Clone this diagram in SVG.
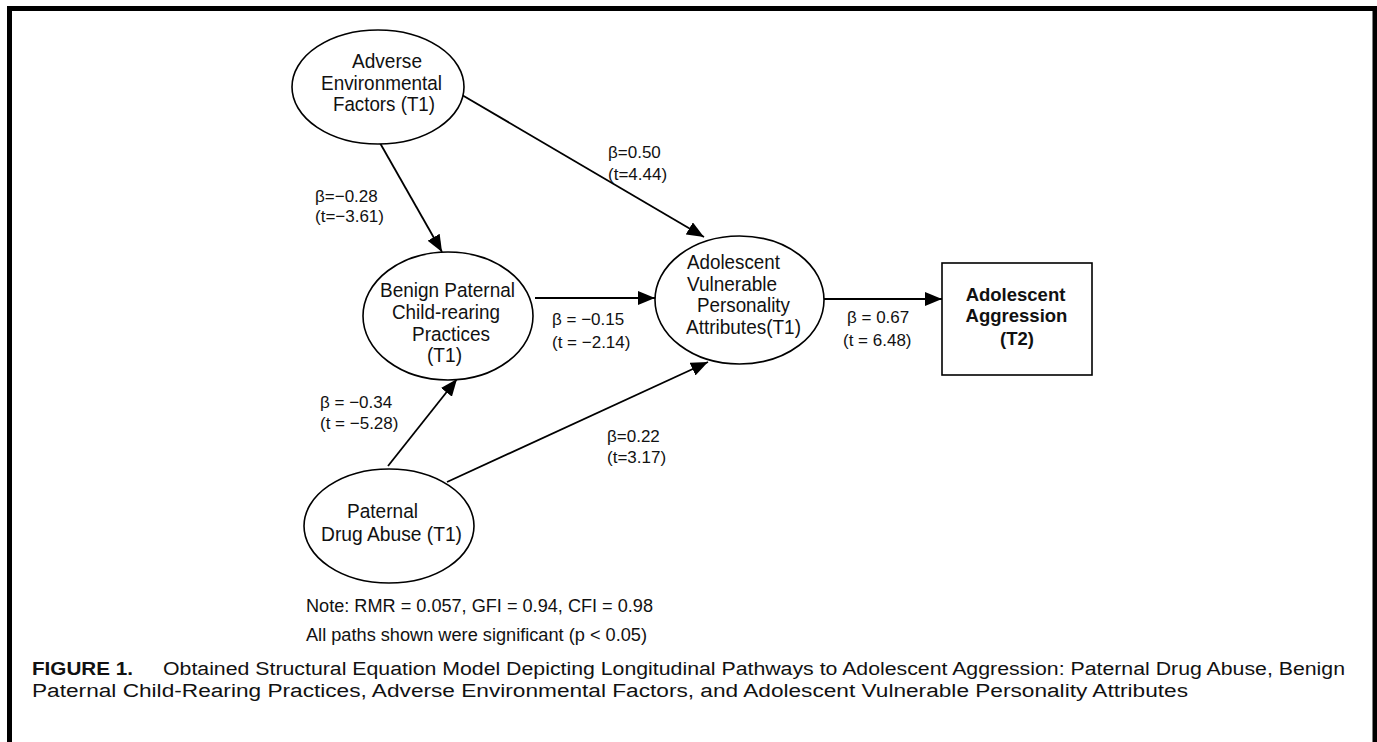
<svg xmlns="http://www.w3.org/2000/svg" width="1377" height="742" viewBox="0 0 1377 742">
<style>
  .node ellipse, .node rect { fill: #fff; stroke: #000; stroke-width: 1.6; }
  .nt { font-family: "Liberation Sans", Arial, sans-serif; font-size: 20.5px; fill: #111; }
  .bt { font-family: "Liberation Sans", Arial, sans-serif; font-size: 18.5px; font-weight: bold; fill: #111; }
  .lbl { font-family: "Liberation Sans", Arial, sans-serif; font-size: 17px; fill: #111; }
  .note { font-family: "Liberation Sans", Arial, sans-serif; font-size: 17.5px; fill: #111; }
  .cap { font-family: "Liberation Sans", Arial, sans-serif; font-size: 18px; fill: #111; }
  .edges line { stroke: #000; stroke-width: 1.8; marker-end: url(#ah); }
</style>
<defs>
  <marker id="ah" markerUnits="userSpaceOnUse" viewBox="0 0 17 14" markerWidth="17" markerHeight="14" refX="17" refY="7" orient="auto">
    <path d="M0,0 L17,7 L0,14 z" fill="#000"/>
  </marker>
</defs>
<rect x="0" y="0" width="1377" height="742" fill="#fff"/>
<path d="M9.5,742 V8.5 H1375 V742" fill="none" stroke="#000" stroke-width="5"/>

<g class="edges" id="connectors">
  <line x1="380" y1="143" x2="442" y2="252"/>
  <line x1="462" y1="95" x2="704" y2="237"/>
  <line x1="535" y1="298" x2="655" y2="298"/>
  <line x1="388" y1="466" x2="457" y2="379"/>
  <line x1="447" y1="482" x2="708" y2="362"/>
  <line x1="824" y1="299" x2="942" y2="299"/>
</g>

<g class="node" id="adverse">
  <ellipse cx="378" cy="87" rx="86" ry="57"/>
  <text class="nt" x="352" y="68" textLength="70" lengthAdjust="spacingAndGlyphs">Adverse</text>
  <text class="nt" x="321" y="90" textLength="121" lengthAdjust="spacingAndGlyphs">Environmental</text>
  <text class="nt" x="333" y="111" textLength="102" lengthAdjust="spacingAndGlyphs">Factors (T1)</text>
</g>

<g class="node" id="benign">
  <ellipse cx="448" cy="316" rx="85" ry="64"/>
  <text class="nt" x="380" y="297" textLength="135" lengthAdjust="spacingAndGlyphs">Benign Paternal</text>
  <text class="nt" x="392" y="319" textLength="108" lengthAdjust="spacingAndGlyphs">Child-rearing</text>
  <text class="nt" x="412" y="341" textLength="78" lengthAdjust="spacingAndGlyphs">Practices</text>
  <text class="nt" x="427" y="362" textLength="35" lengthAdjust="spacingAndGlyphs">(T1)</text>
</g>

<g class="node" id="vulnerable">
  <ellipse cx="739.5" cy="300" rx="84.5" ry="64"/>
  <text class="nt" x="687" y="269" textLength="93" lengthAdjust="spacingAndGlyphs">Adolescent</text>
  <text class="nt" x="687" y="291" textLength="90" lengthAdjust="spacingAndGlyphs">Vulnerable</text>
  <text class="nt" x="697" y="312" textLength="93" lengthAdjust="spacingAndGlyphs">Personality</text>
  <text class="nt" x="686" y="334" textLength="115" lengthAdjust="spacingAndGlyphs">Attributes(T1)</text>
</g>

<g class="node" id="paternal">
  <ellipse cx="389" cy="526" rx="85" ry="57"/>
  <text class="nt" x="347" y="518" textLength="71" lengthAdjust="spacingAndGlyphs">Paternal</text>
  <text class="nt" x="321" y="541" textLength="141" lengthAdjust="spacingAndGlyphs">Drug Abuse (T1)</text>
</g>

<g class="node" id="aggression">
  <rect x="942" y="263" width="150" height="112"/>
  <text class="bt" x="1015.5" y="301" text-anchor="middle">Adolescent</text>
  <text class="bt" x="1016.5" y="322" text-anchor="middle">Aggression</text>
  <text class="bt" x="1017" y="345" text-anchor="middle">(T2)</text>
</g>

<g id="labels">
  <text class="lbl" x="315" y="202">β=−0.28</text>
  <text class="lbl" x="315" y="222">(t=−3.61)</text>
  <text class="lbl" x="608" y="158">β=0.50</text>
  <text class="lbl" x="608" y="180">(t=4.44)</text>
  <text class="lbl" x="552" y="325">β = −0.15</text>
  <text class="lbl" x="552" y="348">(t = −2.14)</text>
  <text class="lbl" x="320" y="408">β = −0.34</text>
  <text class="lbl" x="320" y="429">(t = −5.28)</text>
  <text class="lbl" x="607" y="442">β=0.22</text>
  <text class="lbl" x="607" y="463">(t=3.17)</text>
  <text class="lbl" x="847" y="323">β = 0.67</text>
  <text class="lbl" x="843" y="346">(t = 6.48)</text>
</g>

<g id="notes">
  <text class="note" x="306" y="612" textLength="347" lengthAdjust="spacingAndGlyphs">Note: RMR = 0.057, GFI = 0.94, CFI = 0.98</text>
  <text class="note" x="306" y="641" textLength="341" lengthAdjust="spacingAndGlyphs">All paths shown were significant (p &lt; 0.05)</text>
</g>

<g id="caption">
  <text class="cap" x="32" y="675" font-weight="bold" textLength="101" lengthAdjust="spacingAndGlyphs">FIGURE 1.</text>
  <text class="cap" x="163" y="675" textLength="1182" lengthAdjust="spacingAndGlyphs">Obtained Structural Equation Model Depicting Longitudinal Pathways to Adolescent Aggression: Paternal Drug Abuse, Benign</text>
  <text class="cap" x="32" y="697" textLength="1156" lengthAdjust="spacingAndGlyphs">Paternal Child-Rearing Practices, Adverse Environmental Factors, and Adolescent Vulnerable Personality Attributes</text>
</g>
</svg>
